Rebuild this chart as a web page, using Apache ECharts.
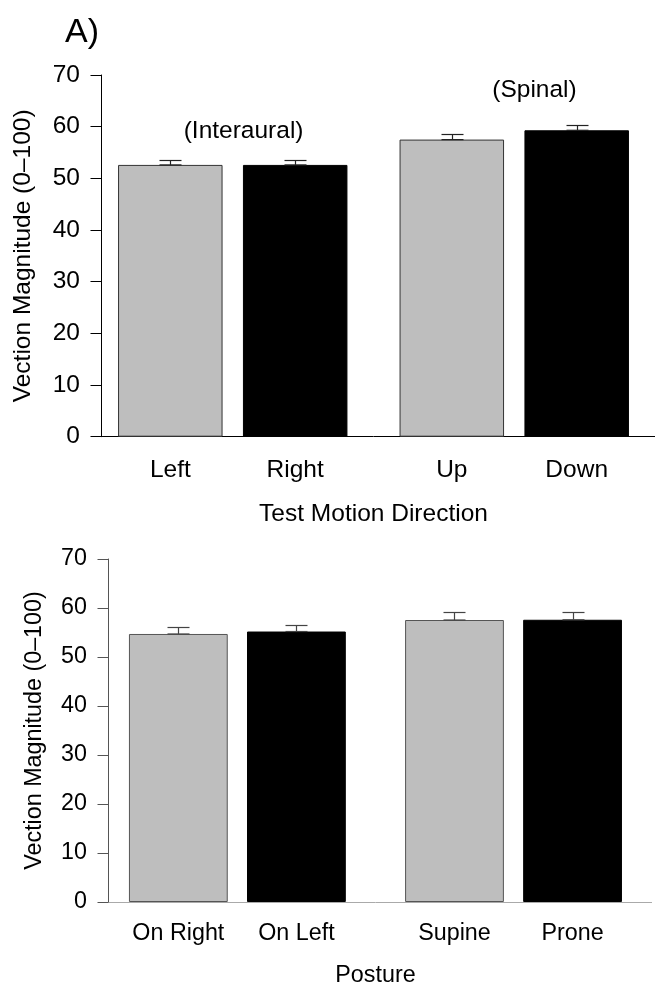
<!DOCTYPE html>
<html>
<head>
<meta charset="utf-8">
<script src="https://cdn.jsdelivr.net/npm/echarts@6/dist/echarts.min.js"></script>
<style>
html,body{margin:0;padding:0;background:#fff;}
#chart{width:655px;height:988px;}
</style>
</head>
<body>
<div id="chart"></div>
<script>
// ---- data ----
const topCategories = ['Left', 'Right', 'Up', 'Down'];
const topGroups = ['(Interaural)', '(Spinal)'];
const topMeans = [52.6, 52.6, 57.5, 59.3];
const topErrors = [0.9, 1.0, 1.1, 1.0];

const bottomCategories = ['On Right', 'On Left', 'Supine', 'Prone'];
const bottomGroups = ['Side', 'Back'];
const bottomMeans = [54.7, 55.2, 57.55, 57.6];
const bottomErrors = [1.5, 1.3, 1.55, 1.6];

const yMin = 0, yMax = 70, yInterval = 10;
const topXName = 'Test Motion Direction';
const bottomXName = 'Posture';
const yName = 'Vection Magnitude (0\u2013100)';
const panelLabel = 'A)';

// ---- layout / style ----
const FONT = 'Liberation Sans, Arial, sans-serif';
const GRAY = '#bebebe';
const topBarW = 104.5, bottomBarW = 98.8, gapRatio = 0.195;
const TOPF = 24.5, BOTF = 23.3;

const chart = echarts.init(document.getElementById('chart'), null, {renderer: 'canvas'});

function pick(arr, slot) { return [arr[slot], arr[slot + 2]]; }

function errorSeries(xi, means, errs, slot, barW, color) {
  const data = [0, 1].map(g => [g, means[g * 2 + slot], errs[g * 2 + slot]]);
  const sign = slot === 0 ? -1 : 1;
  return {
    type: 'custom', xAxisIndex: xi, yAxisIndex: xi, z: 10, silent: true,
    data: data,
    renderItem: function (params, api) {
      const g = api.value(0), m = api.value(1), e = api.value(2);
      const p0 = api.coord([g, m]);
      const p1 = api.coord([g, m + e]);
      const x = Math.round(p0[0] + sign * (barW / 2 + barW * gapRatio / 2)) + 0.5;
      const y0 = p0[1], y1 = Math.round(p1[1]) + 0.5;
      const hw = 11;
      const st = {stroke: color, lineWidth: 1.2};
      return {type: 'group', children: [
        {type: 'line', shape: {x1: x, y1: y0, x2: x, y2: y1}, style: st},
        {type: 'line', shape: {x1: x - hw, y1: y1, x2: x + hw, y2: y1}, style: st},
        {type: 'line', shape: {x1: x - hw, y1: y0, x2: x + hw, y2: y0}, style: st}
      ]};
    }
  };
}

function barSeries(xi, means, cats, slot, barW, fill, border, labelDist, fs) {
  return {
    type: 'bar', xAxisIndex: xi, yAxisIndex: xi,
    data: pick(means, slot),
    barWidth: barW, barGap: (gapRatio * 100) + '%',
    itemStyle: {color: fill, borderColor: border, borderWidth: 1},
    label: {
      show: true, position: 'bottom', distance: labelDist,
      formatter: p => cats[p.dataIndex * 2 + slot],
      fontFamily: FONT, fontSize: fs, color: '#000'
    },
    emphasis: {disabled: true}
  };
}

const option = {
  animation: false,
  backgroundColor: '#fff',
  grid: [
    {left: 92, width: 584.3, top: 75, bottom: 551.3},
    {left: 99.3, width: 552.3, top: 559, bottom: 85.4}
  ],
  xAxis: [
    {type: 'category', gridIndex: 0, data: topGroups,
     axisLine: {lineStyle: {color: '#000', width: 1}},
     axisTick: {show: false}, axisLabel: {show: false},
     name: topXName, nameLocation: 'middle', nameGap: 65,
     nameTextStyle: {fontFamily: FONT, fontSize: TOPF, color: '#000'}},
    {type: 'category', gridIndex: 1, data: bottomGroups,
     axisLine: {lineStyle: {color: '#aaa', width: 1}},
     axisTick: {show: false}, axisLabel: {show: false},
     name: bottomXName, nameLocation: 'middle', nameGap: 62,
     nameTextStyle: {fontFamily: FONT, fontSize: BOTF, color: '#000'}}
  ],
  yAxis: [
    {type: 'value', gridIndex: 0, min: yMin, max: yMax, interval: yInterval, offset: -9.5,
     axisLine: {show: true, lineStyle: {color: '#000', width: 1}},
     axisTick: {show: true, length: 11, lineStyle: {color: '#000'}},
     splitLine: {show: false},
     axisLabel: {margin: 21.5, fontFamily: FONT, fontSize: TOPF, color: '#000'},
     name: yName, nameLocation: 'middle', nameGap: 66,
     nameTextStyle: {fontFamily: FONT, fontSize: TOPF, color: '#000'}},
    {type: 'value', gridIndex: 1, min: yMin, max: yMax, interval: yInterval, offset: -9.2,
     axisLine: {show: true, lineStyle: {color: '#555', width: 1}},
     axisTick: {show: true, length: 11, lineStyle: {color: '#555'}},
     splitLine: {show: false},
     axisLabel: {margin: 21.5, fontFamily: FONT, fontSize: BOTF, color: '#000'},
     name: yName, nameLocation: 'middle', nameGap: 62.5,
     nameTextStyle: {fontFamily: FONT, fontSize: BOTF, color: '#000'}}
  ],
  graphic: [
    {type: 'text', left: 65, top: 16,
     style: {text: panelLabel, font: '34px ' + FONT, fill: '#000'}},
    {type: 'text', x: 243.6, y: 131,
     style: {text: topGroups[0], font: TOPF + 'px ' + FONT, fill: '#000', align: 'center', verticalAlign: 'middle'}},
    {type: 'text', x: 534.5, y: 90,
     style: {text: topGroups[1], font: TOPF + 'px ' + FONT, fill: '#000', align: 'center', verticalAlign: 'middle'}}
  ],
  series: [
    barSeries(0, topMeans, topCategories, 0, topBarW, GRAY, '#333', 21, TOPF),
    barSeries(0, topMeans, topCategories, 1, topBarW, '#000', '#000', 21, TOPF),
    errorSeries(0, topMeans, topErrors, 0, topBarW, '#222'),
    errorSeries(0, topMeans, topErrors, 1, topBarW, '#222'),
    barSeries(1, bottomMeans, bottomCategories, 0, bottomBarW, GRAY, '#555', 20, BOTF),
    barSeries(1, bottomMeans, bottomCategories, 1, bottomBarW, '#000', '#000', 20, BOTF),
    errorSeries(1, bottomMeans, bottomErrors, 0, bottomBarW, '#444'),
    errorSeries(1, bottomMeans, bottomErrors, 1, bottomBarW, '#444')
  ]
};
chart.setOption(option);
</script>
</body>
</html>
